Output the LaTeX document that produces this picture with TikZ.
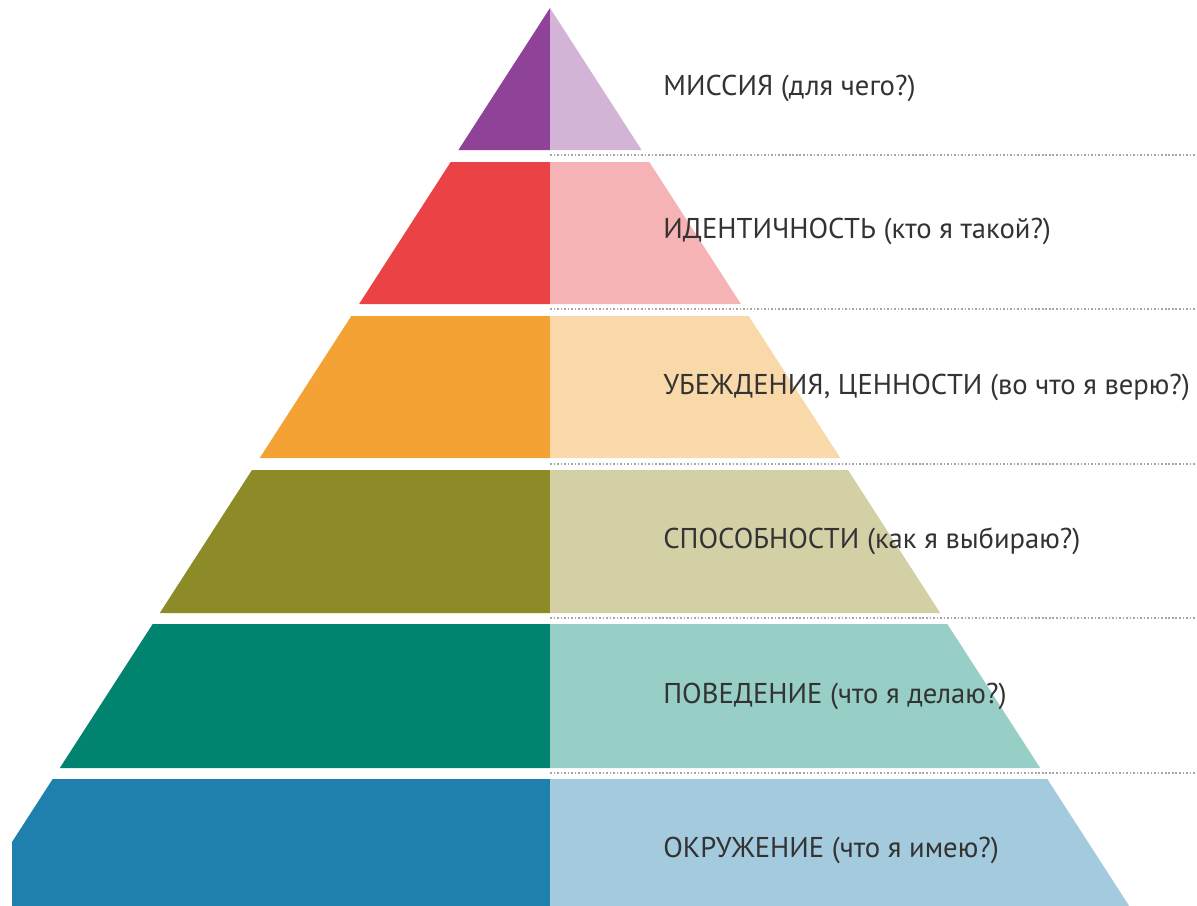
\documentclass[tikz,border=0pt]{standalone}
\usepackage{fontspec}
\setmainfont{PT Sans}
\usepackage{tikz}
\usetikzlibrary{arrows.meta}

\definecolor{missionD}{HTML}{8E4399}
\definecolor{missionL}{HTML}{D3B4D7}
\definecolor{identD}{HTML}{EB4245}
\definecolor{identL}{HTML}{F5B3B5}
\definecolor{beliefD}{HTML}{F4A233}
\definecolor{beliefL}{HTML}{F9D9A9}
\definecolor{abilD}{HTML}{8C8B28}
\definecolor{abilL}{HTML}{D3D0A6}
\definecolor{behavD}{HTML}{00846F}
\definecolor{behavL}{HTML}{97CFC7}
\definecolor{envD}{HTML}{1F7FAD}
\definecolor{envL}{HTML}{A4CADD}
\definecolor{labelgray}{HTML}{333333}

\begin{document}
\begin{tikzpicture}[x=0.02cm,y=-0.02cm]
\tikzstyle{every node}=[font=\fontsize{16.3}{18}\selectfont, text=labelgray, inner sep=0pt, anchor=base west]
\tikzstyle{level line}=[draw=gray!70, line width=0.6pt, dash pattern=on 0.9pt off 1.1pt]
\useasboundingbox (0,0) rectangle (1197,906);
% mission
\fill [missionD] (550,8) -- (550,150) -- (458.4,150) -- cycle;
\fill [missionL] (550,8) -- (641.6,150) -- (550,150) -- cycle;
% identity
\fill [identD] (450.7,162) -- (550,162) -- (550,304) -- (359.1,304) -- cycle;
\fill [identL] (550,162) -- (649.3,162) -- (740.9,304) -- (550,304) -- cycle;
% beliefs
\fill [beliefD] (351.3,316) -- (550,316) -- (550,458) -- (259.7,458) -- cycle;
\fill [beliefL] (550,316) -- (748.7,316) -- (840.3,458) -- (550,458) -- cycle;
% abilities
\fill [abilD] (252,470) -- (550,470) -- (550,613) -- (159.8,613) -- cycle;
\fill [abilL] (550,470) -- (848,470) -- (940.2,613) -- (550,613) -- cycle;
% behaviour
\fill [behavD] (152.7,624) -- (550,624) -- (550,768) -- (59.8,768) -- cycle;
\fill [behavL] (550,624) -- (947.3,624) -- (1040.2,768) -- (550,768) -- cycle;
% environment
\fill [envD] (52.7,779) -- (550,779) -- (550,906) -- (12,906) -- (12,842) -- cycle;
\fill [envL] (550,779) -- (1047.3,779) -- (1129.2,906) -- (550,906) -- cycle;
% dotted lines
\draw [level line] (550,155) -- (1197,155);
\draw [level line] (550,309) -- (1197,309);
\draw [level line] (550,464) -- (1197,464);
\draw [level line] (550,618) -- (1197,618);
\draw [level line] (550,773) -- (1197,773);
% labels
\node (mission) at (663,95) {МИССИЯ (для чего?)};
\node (identity) at (663,238) {ИДЕНТИЧНОСТЬ (кто я такой?)};
\node (beliefs) at (663,394) {УБЕЖДЕНИЯ, ЦЕННОСТИ (во что я верю?)};
\node (abilities) at (663,548) {СПОСОБНОСТИ (как я выбираю?)};
\node (behaviour) at (663,703) {ПОВЕДЕНИЕ (что я делаю?)};
\node (environment) at (663,857) {ОКРУЖЕНИЕ (что я имею?)};
\end{tikzpicture}
\end{document}
